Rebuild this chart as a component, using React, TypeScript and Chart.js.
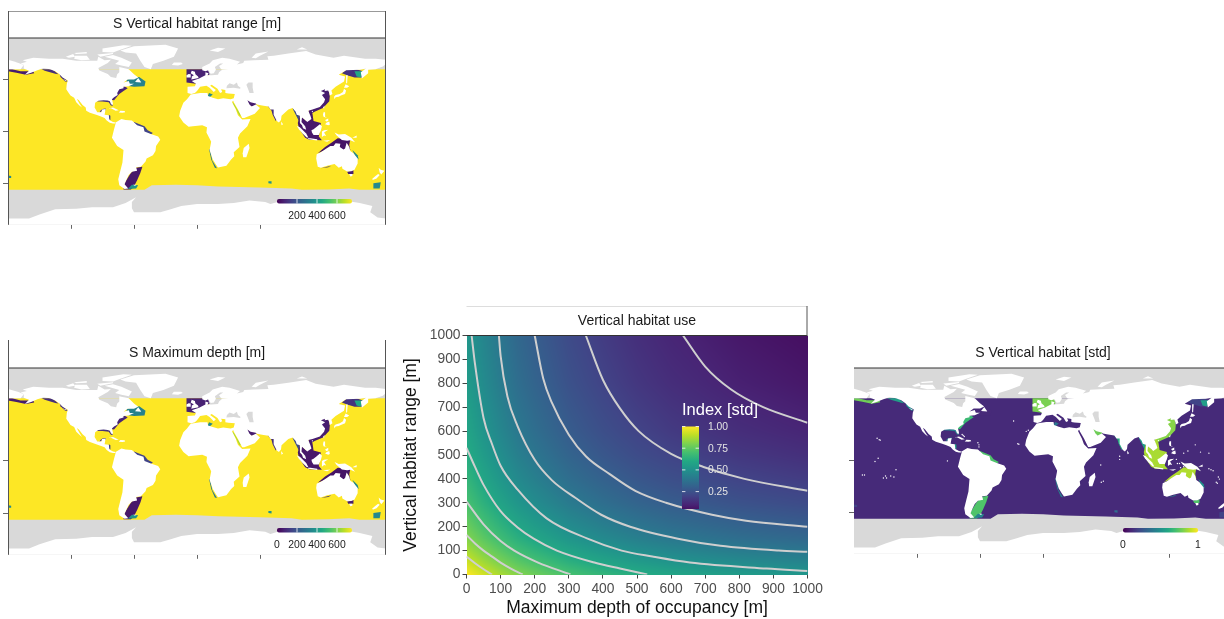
import React, { useEffect, useRef } from "react";
import { Chart, registerables } from "chart.js";
Chart.register(...registerables);

type P = number[][];
const FONT = '"Liberation Sans", Arial, sans-serif';
const viridisStops = ["#440154","#482475","#414487","#355f8d","#2a788e","#21918c","#22a884","#44bf70","#7ad151","#bddf26","#fde725"];

// ---------- map geometry (lon, lat) ----------
const mapBackground: P = [[-180,90],[180,90],[180,-90],[-180,-90]];
const oceanBand: P = [[-180,60],[180,60],[180,-56.3],[155,-56.3],[145,-55],[125,-56],[100,-56.3],[90,-55],[60,-54],[20,-53],[0,-52],[-20,-51.5],[-43,-52],[-50,-56.3],[-180,-56.3]];
const hudson: P = [[-96,60],[-72,60],[-72,51],[-84,51],[-92,56]];
const baltic: P = [[9,60],[31,60],[31,58],[24,53.5],[12,53.5],[9,56]];
const blackSea: P = [[28,41.5],[28.5,44],[31,46.5],[35,45],[38,47],[39,44],[41.5,42],[41,41],[35,42]];
const caspian: P = [[47,45],[49,47],[53,47],[53,42],[54,37],[50,37],[49,40]];

const shelfNames = ["bering","alaska","britcol","newfound","usEast","gulfCoast","campeche","caribbean","northSea","tunisia","persian","redSea","indiaW","andaman","eastChina","sunda","sahul","qld","bass","bight","patagonia","patagoniaS","brazilN","okhotsk","okhotskE","nzSouth","kerguelen","benguela","chatham"];
const shelfDepth = [60,100,100,330,80,110,120,150,70,350,60,650,100,170,60,50,40,350,60,110,50,380,150,110,450,350,380,300,350];
const shelfHabitat = [0.78,0.55,0.5,0.12,0.68,0.42,0.45,0.55,0.8,0.4,0.78,0.1,0.62,0.55,0.82,0.87,0.88,0.5,0.72,0.5,0.72,0.45,0.72,0.2,0.55,0.2,0.35,0.45,0.2];
const shelves: P[] = [
  [[-180,60],[-176,60],[-168,58],[-156,58],[-155,56],[-163,54.5],[-172,56.5],[-180,58]],
  [[-148,60],[-138,60],[-132,55],[-135,55.5],[-145,58.5]],
  [[-131,56],[-127,52],[-123,48],[-125.5,48],[-130,52.5]],
  [[-67,50],[-55,52.5],[-49,48],[-50,43.5],[-60,43],[-67,44]],
  [[-82,30.5],[-79,30],[-74,36],[-70,39],[-66,41.5],[-70,44],[-75,41],[-79,35]],
  [[-98,29],[-90,28.7],[-84,28],[-82,25],[-80,24.8],[-83,30],[-90,31]],
  [[-93,18],[-92,20],[-90,21.5],[-87,22],[-87,20.5],[-90,20]],
  [[-84,16],[-82.5,15],[-82.5,11],[-84,12]],
  [[-10,47],[-10,60],[10,60],[12,55],[8,52],[1,50],[-1,46]],
  [[10,33.5],[11.5,37],[15,35.5],[12,33]],
  [[47,31],[57,27],[55,24],[50,24]],
  [[33,28],[37,22],[40.5,15],[42,15.5],[38.5,21],[35,27]],
  [[67,25],[71,20],[72,16],[75,10],[76.5,12],[73,22]],
  [[91,22],[93,22],[98,16],[97,10],[94,16]],
  [[117,41],[125,41],[126.5,34],[126,29],[120,22.5],[112,19],[107,16],[106,22],[116,24],[120,30],[118,35]],
  [[108,22],[110,17],[111,10],[118,8],[117,1],[116,-5],[119,-8.5],[107,-8],[103,-6],[97,3],[96,8],[98,16],[100,14],[104,10],[106,19]],
  [[115,-21],[122,-15],[128,-11],[134,-6.5],[146,-7.5],[145,-13],[146,-18],[141,-18.5],[135,-17],[128,-16],[120,-19]],
  [[148,-18],[153,-23],[154,-27],[151,-25]],
  [[143,-39],[149,-37.5],[149,-41],[144,-41]],
  [[118,-35.5],[128,-33],[125,-34.5]],
  [[-52,-34],[-54,-40],[-57,-47],[-60,-53],[-63,-56],[-70,-56],[-69,-50],[-66,-45],[-63,-40],[-58,-35]],
  [[-66,-55.5],[-58,-55],[-56,-52],[-62,-51.5]],
  [[-60,9],[-50,5],[-47,1],[-42,-1.5],[-44,-3],[-50,-1],[-53,3],[-60,7]],
  [[138,56],[143,60],[152,60],[158,58],[157,52],[150,52],[143,54]],
  [[150,58],[158,58],[156,52],[152,53]],
  [[168,-50],[175,-49],[174,-55],[168,-55]],
  [[68,-48],[71,-48],[71,-50.5],[68,-50]],
  [[11.5,-17],[13.5,-27],[17,-35],[19,-35.5],[14.5,-28],[12.5,-18]],
  [[-180,-42.5],[-177,-43],[-177,-45],[-180,-45]],
];

const northAmerica: P = [[-168,65.5],[-162,67],[-166,68.5],[-156,71],[-141,70],[-128,70],[-115,68],[-108,68],[-95,68],[-94,72],[-88,68.5],[-82,69],[-85,66],[-94,61],[-93,58.7],[-85,55.3],[-82,52.5],[-77,51.5],[-76,55],[-74,57],[-74,62],[-72,61.5],[-65,60],[-60,55],[-56,52],[-60,50],[-66,50],[-70,47],[-65,48.5],[-64,46],[-60,46],[-65,43.5],[-70,43],[-70,41.5],[-74,40.5],[-76,37],[-75.5,35],[-79,33],[-81,31],[-80,27],[-80.5,25.2],[-82,26.5],[-83,29],[-85,29.7],[-89,30],[-94,29.5],[-97,27.5],[-97.5,23],[-95,18.5],[-91,18.5],[-90.5,21],[-87,21.5],[-88,16],[-84,15.5],[-83.5,11],[-80,9],[-77.5,8.5],[-78,7.5],[-80,7.5],[-83,8.3],[-86,10.5],[-88,13],[-92,14.5],[-96,16],[-102,18],[-105.5,20],[-106,23],[-109,25.5],[-112.5,30],[-114.5,31.5],[-112,27],[-109.5,23],[-112,25],[-115,28],[-117,32.5],[-120.5,34.5],[-122.5,37.5],[-124.5,40.5],[-124,46],[-123,49],[-128,52],[-131,55],[-135,58],[-140,60],[-146,61],[-152,59],[-158,56.5],[-164,54.5],[-160,58.5],[-165,60.5],[-165,64]];
const southAmerica: P = [[-77.5,8.5],[-72,12],[-68,11],[-62,10.5],[-57,6],[-51,4],[-50,0],[-44,-2.5],[-37,-5],[-35,-8],[-39,-14],[-39.5,-19],[-42,-23],[-48,-26],[-49,-29],[-53.5,-34],[-58,-34.5],[-57,-38],[-62,-39],[-65,-42],[-67,-46],[-69,-51],[-65.5,-55],[-69,-55.5],[-74,-52],[-75,-46],[-73,-38],[-71,-30],[-70,-18],[-76,-14],[-81,-6],[-80,-2],[-79,2],[-77.5,7.5]];
const eurasiaAfrica: P = [[5,59],[5,62],[12,65.5],[15,68.5],[24,71],[31,70],[41,67],[38,64.5],[44,66],[45,68],[54,68.5],[68,69],[67,72.5],[73,73],[87,75],[104,77.5],[113,74],[130,71],[140,73],[160,70],[170,70],[180,69],[180,65],[177,62.5],[170,60],[163,59.5],[163,56],[157,51],[156,57],[161,60.5],[155,59.5],[142,59],[135,54.5],[141,53],[140,48],[132,43],[128,39.5],[129,36],[126.5,34.5],[126,37],[125,39.5],[121.5,39],[122,40.5],[118,39],[122,37],[119,35],[122,31],[121,28],[117,23.5],[110,21],[106,20],[108,15],[109,12],[105,9],[103,11],[100,13.5],[99.5,9],[103,5],[104,1.5],[101,3],[100,6],[98,8],[98,15],[95,16],[94,19],[91,22.5],[87,21],[80.5,15],[80,11],[78,8.5],[76,10],[73,16],[73,21],[70,21],[68,24],[62,25],[57,26],[56,27],[51,28],[48,30],[50,26],[52,24],[56,26],[60,22.5],[55,17],[45,13],[43,13],[39,21],[35,28],[34.5,29.5],[33,28],[32.5,30],[35.5,24],[37,21],[39,15.5],[43,11.5],[51,12],[48,5],[41,-2],[39,-6],[40.5,-15],[35,-20],[35.5,-24],[32.5,-27],[28,-33],[20,-34.8],[18,-32],[15,-27],[12,-18],[13.5,-10],[9,-1],[9.5,4],[5,6],[-4,5],[-8,4.5],[-13,8.5],[-17,14.5],[-16,20],[-13,27.5],[-9.5,31],[-6,35.5],[3,37],[10,37],[10.5,34],[15,32.5],[20,31],[25,32],[32,31],[35,32],[36,36],[30,36.5],[27,37],[27,40],[23,40.5],[24,38],[22,37],[19.5,41],[14,45],[12.5,44],[18,40],[16,38],[12,42],[9,44],[3,43],[0,39],[-2,37],[-5.5,36],[-9,37],[-9,43],[-2,43.5],[-1,46],[-5,48.5],[2,51],[8,54],[8,57],[11,56],[10,54],[14,54],[20,54.5],[21,57],[24,59.5],[30,60],[23,60],[21,63],[25,65.5],[22,65.5],[17,62],[18,59.5],[16,56],[13,55.5],[11,59],[8,58]];
const chukotkaWest: P = [[-180,60],[-168,60],[-165,64],[-170,66],[-175,67.5],[-180,69]];
const greenland: P = [[-73,78],[-60,82],[-30,83.5],[-18,80],[-22,72],[-32,68],[-42,65],[-44,60],[-50,62],[-54,68],[-58,75],[-68,76]];
const australia: P = [[114,-22],[113.5,-26],[115,-34],[118,-35],[124,-33],[131,-31.5],[135,-35],[138,-33.5],[138.5,-36],[143,-38.7],[147,-38.5],[150,-37],[153,-31],[153,-26],[149,-21],[146,-19],[145,-15],[142.5,-11],[141,-16.5],[139.5,-17.5],[136,-15],[136.5,-12],[132,-11.5],[130,-14],[127,-14],[122.5,-17],[118,-20]];
const antarctica: P = [[-180,-84],[-160,-84],[-150,-80],[-135,-75],[-115,-74.5],[-100,-73],[-80,-73],[-68,-69],[-58,-63.5],[-62,-68],[-62,-74],[-60,-78],[-45,-78],[-35,-78],[-25,-75],[-15,-72],[0,-70],[20,-70],[35,-69],[50,-66.5],[65,-68],[70,-70],[80,-67],[95,-66],[110,-66],[125,-66.5],[140,-66.5],[155,-69],[167,-72],[165,-78],[172,-83],[180,-84],[180,-90],[-180,-90]];
const islands: P[] = [
  [[-24,64],[-22,66.3],[-15,66.3],[-13.5,65],[-18,63.4]],
  [[-5.5,50],[1.5,51.5],[1,53],[-1.5,55],[-2,57.5],[-5,58.5],[-6,56],[-3,54],[-5,53],[-5,51.7]],
  [[-10,52],[-6,52],[-6,55],[-8,55.3],[-10,54]],
  [[-85,22],[-80,23],[-74.5,20.3],[-77.5,20],[-82,22.3]],
  [[-74.5,18.3],[-73,20],[-69,19.7],[-68.4,18.5],[-71,18]],
  [[130.5,33.5],[132,35],[136,36],[139,38],[140,41],[142,39.5],[141,36],[137,34.5],[135,33.5],[132,33],[131,31]],
  [[140,42],[141.5,45.5],[145,43.5],[143,42]],
  [[142,46],[142,54],[143.5,54],[143,47]],
  [[120,23],[121.5,25],[121,22]],
  [[109,19],[110.5,20],[110.5,18.5]],
  [[120,16],[120.5,18.5],[122,18.5],[122,14],[124,13],[120.5,14]],
  [[122,7],[123.5,8.5],[126,9.5],[126.5,6.5],[125,6]],
  [[122,11],[125,12.5],[125,10],[123,9.5]],
  [[95,5.5],[98,4],[104,-2],[106,-5.8],[104.5,-5.8],[100.5,-2],[97,2]],
  [[105.5,-6.5],[108,-6.5],[114.5,-7.5],[114.5,-8.7],[106,-7.5]],
  [[109,1],[111,2],[114,4.5],[117,7],[119,5],[118,1],[116,-3.5],[111,-3.5],[109.5,-1]],
  [[119,-5.5],[119,0],[121,1],[125,1.5],[121,-1],[123,-4.5],[121,-4]],
  [[120,-9],[125,-8.5],[127,-8.3],[124,-10]],
  [[131,-1],[135,-3],[141,-2.5],[147,-6],[150.5,-10.5],[146,-8.5],[143,-9],[138,-8.3],[133,-4]],
  [[148,-6],[152,-4],[152,-6]],
  [[145,-41],[148,-41],[148,-43],[146,-43.5]],
  [[173,-35],[175,-37],[178.5,-38],[175.5,-41.5],[174,-39.5]],
  [[172.5,-41],[174,-42],[171,-45.5],[168,-46.7],[166.5,-46],[170,-43]],
  [[49.3,-12],[50,-16],[47,-25],[44,-25],[43.5,-21],[44.5,-16]],
  [[80,9.5],[82,7],[80.5,6]],
  [[52,71],[56,75],[68,77],[60,73],[56,70.5]],
  [[12,78],[20,80.5],[27,80],[20,76.5]],
  [[95,79],[105,79],[100,81]],
  [[-125,72],[-118,74.5],[-116,72],[-122,71]],
  [[-117,70],[-116,73],[-105,73],[-102,69],[-110,68.5]],
  [[-80,73.5],[-72,71],[-62,66.5],[-65,62],[-72,63.5],[-78,65],[-74,68],[-88,72]],
  [[-90,76.5],[-90,80],[-70,83],[-62,82.5],[-75,78],[-80,76]],
  [[-117,75.5],[-105,76.5],[-105,75],[-115,74.5]],
  [[-95,74],[-80,75.5],[-80,74.5],[-92,72]],
  [[-59,47.7],[-56,51.5],[-53,47]],
  [[-128,50.5],[-124,49],[-125,48.5]],
  [[-61,-51.5],[-58,-51.5],[-59,-52.5]],
];
const islandSpecks: P = [[-156,20],[-155,19.5],[-158,21.3],[-149,-17],[-145,-15],[-140,-9],[-142,-16],[-150,-15],[-152,-17],[-157,2],[-160,-1],[-172,-14],[-170,-14],[178,-17],[179,-18],[167,-16],[168,-18],[160,-9],[158,-8],[162,-10],[165,-21],[166,-22],[-91,-0.5],[-16,28],[-14,29],[-28,38],[-24,16],[-23,15.5],[73,4],[73,1],[55,-4.5],[57.5,-20],[55.5,-21],[-61,15],[-61,13],[-62,17],[-77,25],[-76,24],[-75,23],[130,-3],[128,-3],[127,1],[131,-7],[134,-6],[145,15],[150,8],[158,7],[134,7],[138,9]];

// ---------- centre panel ----------
const heatAxis = [0,25,50,75,100,150,200,300,400,500,600,800,1000];
const heatValues = [
  [1.00,0.965,0.93,0.90,0.87,0.815,0.775,0.705,0.655,0.615,0.585,0.545,0.52],
  [0.965,0.93,0.895,0.865,0.835,0.78,0.74,0.67,0.62,0.58,0.55,0.51,0.485],
  [0.93,0.895,0.86,0.83,0.80,0.745,0.705,0.635,0.585,0.545,0.515,0.475,0.45],
  [0.90,0.865,0.83,0.80,0.77,0.715,0.675,0.605,0.555,0.515,0.485,0.445,0.42],
  [0.87,0.835,0.80,0.77,0.74,0.685,0.645,0.575,0.525,0.485,0.455,0.415,0.39],
  [0.815,0.78,0.745,0.715,0.685,0.63,0.59,0.52,0.47,0.43,0.40,0.36,0.335],
  [0.775,0.74,0.705,0.675,0.645,0.59,0.55,0.48,0.43,0.39,0.36,0.32,0.295],
  [0.705,0.67,0.635,0.605,0.575,0.52,0.48,0.41,0.36,0.32,0.29,0.25,0.225],
  [0.655,0.62,0.585,0.555,0.525,0.47,0.43,0.36,0.31,0.27,0.24,0.20,0.175],
  [0.615,0.58,0.545,0.515,0.485,0.43,0.39,0.32,0.27,0.23,0.20,0.16,0.135],
  [0.585,0.55,0.515,0.485,0.455,0.40,0.36,0.29,0.24,0.20,0.17,0.13,0.105],
  [0.545,0.51,0.475,0.445,0.415,0.36,0.32,0.25,0.20,0.16,0.13,0.09,0.065],
  [0.52,0.485,0.45,0.42,0.39,0.335,0.295,0.225,0.175,0.135,0.105,0.065,0.04],
];
const contours: P[] = [
  [[0,75],[25,47],[47,25],[75,0]],
  [[0,165],[25,130],[50,100],[75,75],[100,50],[130,25],[165,0]],
  [[0,305],[50,210],[100,140],[140,100],[210,50],[305,0]],
  [[0,530],[25,450],[50,375],[100,265],[150,197],[197,150],[265,100],[375,50],[450,25],[530,0]],
  [[15,1000],[25,880],[50,655],[75,545],[100,455],[150,355],[235,235],[355,150],[455,100],[545,75],[655,50],[880,25],[1000,15]],
  [[95,1000],[100,915],[120,745],[150,620],[200,480],[250,395],[320,320],[395,250],[480,200],[620,150],[745,120],[915,100],[1000,95]],
  [[200,1000],[225,820],[250,720],[300,585],[350,495],[420,420],[495,350],[585,300],[720,250],[820,225],[1000,200]],
  [[350,1000],[400,815],[450,695],[505,600],[600,505],[695,450],[815,400],[1000,350]],
  [[635,1000],[700,870],[775,775],[870,700],[1000,635]],
];
const axisTicks = [0,100,200,300,400,500,600,700,800,900,1000];
const heatLegendTicks = [1.0,0.75,0.5,0.25];

function hex(c: string) { return [1,3,5].map(i => parseInt(c.slice(i,i+2),16)); }
function viridisRGB(t: number) {
  const v = Math.max(0,Math.min(1,t))*10; const i = Math.min(9,Math.floor(v)); const f = v-i;
  const a = hex(viridisStops[i]), b = hex(viridisStops[i+1]);
  return a.map((x,k)=>Math.round(x+(b[k]-x)*f));
}
function viridis(t: number) { const c = viridisRGB(t); return `rgb(${c[0]},${c[1]},${c[2]})`; }
const toXY = (p: P) => p.map(([x,y]) => ({x,y}));
const GRAY = "#d9d9d9";

const polyFill = {
  id: "polyFill",
  beforeDatasetsDraw(chart: any) {
    const { ctx, chartArea: a } = chart;
    ctx.save(); ctx.beginPath(); ctx.rect(a.left,a.top,a.right-a.left,a.bottom-a.top); ctx.clip();
    chart.data.datasets.forEach((ds: any, i: number) => {
      if (!ds.polyColor) return;
      const pts = chart.getDatasetMeta(i).data;
      ctx.beginPath();
      pts.forEach((p: any, k: number) => k ? ctx.lineTo(p.x,p.y) : ctx.moveTo(p.x,p.y));
      ctx.closePath(); ctx.fillStyle = ds.polyColor; ctx.fill();
    });
    ctx.restore();
  },
};

function poly(label: string, p: P, color: string) {
  return { label, data: toXY(p), polyColor: color, showLine: false, pointRadius: 0, pointHoverRadius: 0 };
}

function barGradient(ctx: any, x0: number, y0: number, x1: number, y1: number) {
  const g = ctx.createLinearGradient(x0,y0,x1,y1);
  viridisStops.forEach((c,i)=>g.addColorStop(i/10,c));
  return g;
}

function frameAndLegend(cfg: any) {
  return {
    id: "frameAndLegend",
    afterDatasetsDraw(chart: any) {
      const { ctx, chartArea: a } = chart;
      ctx.save();
      if (cfg.stripOffset) { ctx.fillStyle = "#fff"; ctx.fillRect(0,a.top-1,chart.width,cfg.stripOffset+1); }
      const sy = a.top + (cfg.stripOffset||0);
      ctx.lineWidth = 1;
      if (cfg.topLine) { ctx.strokeStyle = cfg.topLine; ctx.beginPath(); ctx.moveTo(a.left,0.5); ctx.lineTo(a.right,0.5); ctx.stroke(); }
      ctx.strokeStyle = "#333"; ctx.beginPath(); ctx.moveTo(a.left,sy); ctx.lineTo(a.right,sy); ctx.stroke();
      ctx.strokeStyle = "#555";
      if (cfg.leftLine) { ctx.beginPath(); ctx.moveTo(a.left+0.5,0); ctx.lineTo(a.left+0.5,a.bottom); ctx.stroke(); }
      ctx.beginPath(); ctx.moveTo(a.right-0.5,0); ctx.lineTo(a.right-0.5,cfg.rightToStrip ? a.top : a.bottom); ctx.stroke();
      if (cfg.bar) {
        const bx = a.left+269, bw = 75, by = a.top+161, bh = 4.5;
        ctx.fillStyle = barGradient(ctx,bx,0,bx+bw,0);
        ctx.beginPath(); ctx.roundRect(bx,by,bw,bh,2); ctx.fill();
        ctx.fillStyle = "#222"; ctx.font = `10.4px ${FONT}`; ctx.textAlign = "center"; ctx.textBaseline = "middle";
        cfg.bar.forEach(([pos,text]: any) => {
          const x = bx + pos*bw;
          if (pos>0 && pos<1) { ctx.strokeStyle = "#fff"; ctx.lineWidth = 0.8; ctx.beginPath(); ctx.moveTo(x,by); ctx.lineTo(x,by+bh); ctx.stroke(); }
          ctx.fillText(text,x,a.top+178);
        });
      }
      ctx.restore();
    },
  };
}

function spacerAxis(width: number) {
  return { type: "linear", position: "right", min: 0, max: 1, afterFit: (s: any) => { s.width = width; },
    grid: { display: false }, border: { display: false }, ticks: { display: false } };
}

function mapOptions(title: string, xTicks: number[], yTicks: number[], titlePad: number) {
  return {
    responsive: false, animation: false, devicePixelRatio: 1,
    plugins: { legend: { display: false }, tooltip: { enabled: false },
      title: { display: true, text: title, color: "#1a1a1a", font: { family: FONT, size: 14, weight: "normal", lineHeight: 1.2 }, padding: { top: titlePad, bottom: 27 - titlePad - 16.8 } } },
    scales: {
      x: { type: "linear", min: -180, max: 180,
        afterBuildTicks: (s: any) => { s.ticks = xTicks.map(value => ({ value })); },
        afterFit: (s: any) => { s.height = 8; },
        grid: { drawOnChartArea: false, tickLength: 4, tickColor: "#666" }, border: { display: false },
        ticks: { callback: () => "", autoSkip: false, maxRotation: 0 } },
      y: { type: "linear", min: -90, max: 90,
        afterBuildTicks: (s: any) => { s.ticks = yTicks.map(value => ({ value })); },
        afterFit: (s: any) => { s.width = 8; },
        grid: { drawOnChartArea: false, tickLength: 5, tickColor: "#666" }, border: { display: false },
        ticks: { callback: () => "", autoSkip: false } },
      spacer: spacerAxis(8),
    },
  };
}

function mapDatasets(ocean: string, shelfColor: (i: number) => string, specks: boolean) {
  const land = [northAmerica,southAmerica,eurasiaAfrica,chukotkaWest,greenland,australia,antarctica,...islands];
  const sets: any[] = [
    poly("background", mapBackground, GRAY),
    poly("ocean", oceanBand, ocean),
    poly("hudson", hudson, GRAY), poly("baltic", baltic, GRAY),
    ...shelves.map((s,i)=>poly(shelfNames[i], s, shelfColor(i))),
    ...land.map((l,i)=>poly("land"+i, l, "#fff")),
    poly("blackSea", blackSea, GRAY), poly("caspian", caspian, GRAY),
  ];
  if (specks) sets.push({ label: "islands", data: toXY(islandSpecks), pointRadius: 0.7, pointBackgroundColor: "#fff", pointBorderWidth: 0, showLine: false });
  return sets;
}

const heatPlugin = {
  id: "heatPlugin",
  beforeDatasetsDraw(chart: any) {
    const { ctx, chartArea: a, scales } = chart;
    const L = Math.round(a.left), T = Math.round(a.top), W = Math.round(a.right-a.left), H = Math.round(a.bottom-a.top);
    const img = ctx.createImageData(W,H);
    const seg = (v: number) => { let i = 0; while (i < heatAxis.length-2 && v > heatAxis[i+1]) i++; return [i,(v-heatAxis[i])/(heatAxis[i+1]-heatAxis[i])]; };
    for (let py=0; py<H; py++) {
      const [j,fy] = seg(Math.max(0,scales.y.getValueForPixel(T+py+0.5)));
      for (let px=0; px<W; px++) {
        const [i,fx] = seg(Math.max(0,scales.x.getValueForPixel(L+px+0.5)));
        const v = (heatValues[j][i]*(1-fx)+heatValues[j][i+1]*fx)*(1-fy)+(heatValues[j+1][i]*(1-fx)+heatValues[j+1][i+1]*fx)*fy;
        const c = viridisRGB(v); const o = (py*W+px)*4;
        img.data[o]=c[0]; img.data[o+1]=c[1]; img.data[o+2]=c[2]; img.data[o+3]=255;
      }
    }
    ctx.putImageData(img,L,T);
  },
};
const heatLegend = {
  id: "heatLegend",
  afterDatasetsDraw(chart: any) {
    const { ctx, chartArea: a } = chart;
    const x = a.left+215.5, w = 17, top = a.top+91, h = 82.5, perUnit = 86.8;
    ctx.save();
    ctx.fillStyle = "#fff"; ctx.font = `16.5px ${FONT}`; ctx.textAlign = "left"; ctx.textBaseline = "middle";
    ctx.fillText("Index [std]",x,a.top+74.5);
    ctx.fillStyle = barGradient(ctx,0,top+perUnit,0,top); ctx.fillRect(x,top,w,h);
    ctx.font = `10.3px ${FONT}`; ctx.fillStyle = "#e4e4e4"; ctx.strokeStyle = "#fff"; ctx.lineWidth = 0.8;
    heatLegendTicks.forEach(t => {
      const y = top+(1-t)*perUnit;
      ctx.beginPath(); ctx.moveTo(x,y); ctx.lineTo(x+3.4,y); ctx.moveTo(x+w-3.4,y); ctx.lineTo(x+w,y); ctx.stroke();
      ctx.fillText(t.toFixed(2),x+26,y+0.5);
    });
    ctx.restore();
  },
};

export default function App() {
  const a = useRef<HTMLCanvasElement>(null), b = useRef<HTMLCanvasElement>(null), c = useRef<HTMLCanvasElement>(null), d = useRef<HTMLCanvasElement>(null);
  useEffect(() => {
    const charts: Chart[] = [];
    const depthColor = (i: number) => viridis(shelfDepth[i]/750);
    const habColor = (i: number) => viridis(shelfHabitat[i]);
    const barDepth = [[200/750,"200"],[400/750,"400"],[600/750,"600"]];
    charts.push(new Chart(a.current as any, {
      type: "scatter", data: { datasets: mapDatasets("#fde725", depthColor, false) } as any,
      options: mapOptions("S Vertical habitat range [m]", [-120,-60,0,60], [50,0,-50], 5.2) as any,
      plugins: [polyFill, frameAndLegend({ topLine: "#999", leftLine: true, bar: barDepth })],
    }));
    charts.push(new Chart(b.current as any, {
      type: "scatter", data: { datasets: mapDatasets("#fde725", depthColor, false) } as any,
      options: mapOptions("S Maximum depth [m]", [-120,-60,0,60], [0,-50], 5.2) as any,
      plugins: [polyFill, frameAndLegend({ leftLine: true, stripOffset: 1, bar: [[0,"0"],...barDepth] })],
    }));
    charts.push(new Chart(d.current as any, {
      type: "scatter", data: { datasets: mapDatasets("#462a79", habColor, true) } as any,
      options: mapOptions("S Vertical habitat [std]", [-120,-60,0,120], [0,-50], 5.2) as any,
      plugins: [polyFill, frameAndLegend({ stripOffset: 1, bar: [[0,"0"],[1,"1"]] })],
    }));
    const tickFont = { family: FONT, size: 13.8 };
    const cells = heatAxis.flatMap((yv,j) => heatAxis.map((xv,i) => ({ x: xv, y: yv, v: heatValues[j][i] })));
    charts.push(new Chart(c.current as any, {
      type: "scatter",
      data: { datasets: [
        ...contours.map((p,i) => ({ label: "contour"+i, data: toXY(p), showLine: true, pointRadius: 0, borderColor: "#cfcfcf", borderWidth: 2, cubicInterpolationMode: "monotone" })),
        { label: "cells", data: cells, pointRadius: 0, showLine: false },
      ] } as any,
      options: {
        responsive: false, animation: false, devicePixelRatio: 1,
        plugins: { legend: { display: false }, tooltip: { enabled: false },
          title: { display: true, text: "Vertical habitat use", color: "#1a1a1a", font: { family: FONT, size: 14, weight: "normal", lineHeight: 1.2 }, padding: { top: 6.5, bottom: 6.2 } } },
        scales: {
          x: { type: "linear", min: 0, max: 1000,
            afterBuildTicks: (s: any) => { s.ticks = axisTicks.map(value => ({ value })); },
            afterFit: (s: any) => { s.height = 44.5; },
            grid: { drawOnChartArea: false, tickLength: 4, tickColor: "#444" }, border: { display: false },
            title: { display: true, text: "Maximum depth of occupancy [m]", color: "#111", font: { family: FONT, size: 17.5 }, padding: { top: 0, bottom: 0 } },
            ticks: { color: "#4d4d4d", font: tickFont, autoSkip: false, maxRotation: 0, padding: 2, callback: (v: any) => String(v) } },
          y: { type: "linear", min: 0, max: 1000,
            afterBuildTicks: (s: any) => { s.ticks = axisTicks.map(value => ({ value })); },
            afterFit: (s: any) => { s.width = 66.5; },
            grid: { drawOnChartArea: false, tickLength: 4, tickColor: "#444" }, border: { display: false },
            title: { display: true, text: "Vertical habitat range [m]", color: "#111", font: { family: FONT, size: 17.5 }, padding: { top: 1, bottom: 0 } },
            ticks: { color: "#4d4d4d", font: tickFont, autoSkip: false, padding: 2, callback: (v: any) => String(v) } },
          spacer: spacerAxis(66.5),
        },
      } as any,
      plugins: [heatPlugin, frameAndLegend({ topLine: "#ddd", rightToStrip: true }), heatLegend],
    }));
    return () => charts.forEach(ch => ch.destroy());
  }, []);
  const abs = (left: number, top: number): React.CSSProperties => ({ position: "absolute", left, top, display: "block" });
  return (
    <div style={{ position: "fixed", left: 0, top: 0, width: 1224, height: 619, overflow: "hidden", background: "#fff", filter: "blur(0.5px)" }}>
      <canvas ref={a} width={394} height={224} style={abs(0,11)} />
      <canvas ref={b} width={394} height={225} style={abs(0,340)} />
      <canvas ref={c} width={474} height={313} style={abs(400,306)} />
      <canvas ref={d} width={394} height={224} style={abs(846,340)} />
    </div>
  );
}
